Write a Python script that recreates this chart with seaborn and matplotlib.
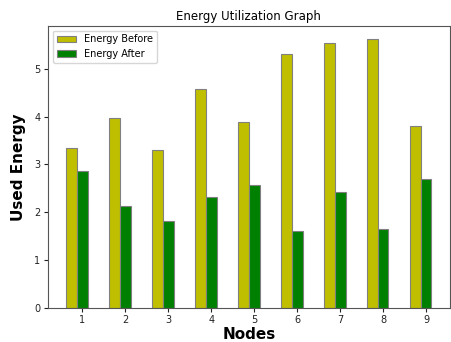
import numpy as np
import pandas as pd
import matplotlib
matplotlib.use('Agg')
import matplotlib.pyplot as plt
import seaborn as sns

# data
nodes = ['1', '2', '3', '4', '5', '6', '7', '8', '9']
energy_before = [3.35, 3.96, 3.30, 4.58, 3.89, 5.31, 5.54, 5.62, 3.81]
energy_after = [2.87, 2.13, 1.82, 2.32, 2.57, 1.60, 2.43, 1.65, 2.70]

df = pd.DataFrame({
    'Nodes': nodes * 2,
    'Energy': energy_before + energy_after,
    'Series': ['Energy Before'] * len(nodes) + ['Energy After'] * len(nodes),
})

sns.set_style('white')
plt.rcParams['font.family'] = ['DejaVu Sans']
plt.rcParams['text.color'] = 'black'
plt.rcParams['axes.labelcolor'] = 'black'

fig, ax = plt.subplots(figsize=(4.52, 3.42), dpi=100)
sns.barplot(data=df, x='Nodes', y='Energy', hue='Series', ax=ax,
            palette={'Energy Before': 'y', 'Energy After': 'g'},
            saturation=1, width=0.5, edgecolor='grey', linewidth=0.8,
            errorbar=None)

# ticks sit under the green bar, like the original
ax.set_xticks([r + 0.125 for r in range(len(nodes))])
ax.set_xticklabels(nodes)
ax.set_xlim(-0.675, 8.675)
ax.set_ylim(0, 5.9)
ax.tick_params(labelsize=7, length=3, width=0.8, colors='#222222', pad=2.5)
ax.tick_params(axis='both', which='both', bottom=True, left=True)

for s in ax.spines.values():
    s.set_color('#555555')
    s.set_linewidth(0.8)

ax.set_title('Energy Utilization Graph', fontsize=8.5, pad=4, color='black')
ax.set_xlabel('Nodes', fontweight='bold', fontsize=11, labelpad=1, color='black')
ax.set_ylabel('Used Energy', fontweight='bold', fontsize=11, labelpad=6, color='black')
ax.legend(loc='upper left', fontsize=7, title=None, frameon=True)

fig.subplots_adjust(left=0.106, right=0.995, top=0.925, bottom=0.1)
fig.savefig('out.png', dpi=100)
